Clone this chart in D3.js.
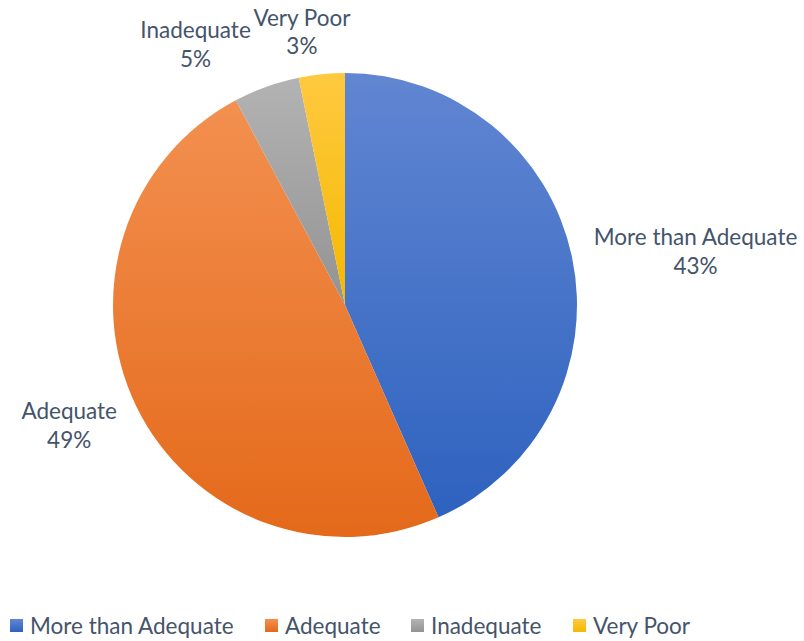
<!DOCTYPE html>
<html>
<head>
<meta charset="utf-8">
<script src="https://cdn.jsdelivr.net/npm/d3@7"></script>
<style>
  body { margin: 0; background: #fff; }
  svg text { font-family: Lato, "Noto Sans", sans-serif; fill: #44546A; }
</style>
</head>
<body>
<div id="chart"></div>
<script>
var categories = ["More than Adequate", "Adequate", "Inadequate", "Very Poor"];
var values = [43.4, 48.8, 4.6, 3.2];
var colorsTop = ["#6186d2", "#f39050", "#b3b3b3", "#ffc940"];
var colorsBottom = ["#2e62bf", "#e4691a", "#939393", "#f5b800"];

var width = 804, height = 641;
var cx = 345, cy = 305, radius = 232;

// label placement (Excel "best fit" style), pixel nudges from the label arc
var labelPos = [
    { r: 350, dx: 8, dy: 19 },
    { r: 300, dx: -6, dy: -10 },
    { r: 270, dx: -58, dy: -6 },
    { r: 280, dx: -15, dy: 6 }
];

var svg = d3.select("#chart").append("svg")
    .attr("width", width)
    .attr("height", height);

var defs = svg.append("defs");
categories.forEach(function (c, i) {
    var g = defs.append("linearGradient")
        .attr("id", "grad" + i)
        .attr("x1", 0).attr("y1", 0).attr("x2", 0).attr("y2", 1);
    g.append("stop").attr("offset", "0%").attr("stop-color", colorsTop[i]);
    g.append("stop").attr("offset", "100%").attr("stop-color", colorsBottom[i]);
});

var pie = d3.pie().sort(null).value(function (d) { return d; });
var arcs = pie(values);
var arc = d3.arc().innerRadius(0).outerRadius(radius);

var g = svg.append("g").attr("transform", `translate(${cx}, ${cy})`);

g.selectAll(".slice")
    .data(arcs)
    .enter()
    .append("path")
    .attr("class", "slice")
    .attr("d", arc)
    .attr("fill", function (d, i) { return "url(#grad" + i + ")"; });

// data labels
var labels = g.selectAll(".label")
    .data(arcs)
    .enter()
    .append("text")
    .attr("class", "label")
    .attr("text-anchor", "middle")
    .style("font-size", "22.5px")
    .attr("transform", function (d, i) {
        var p = d3.arc().innerRadius(labelPos[i].r).outerRadius(labelPos[i].r).centroid(d);
        return `translate(${p[0] + labelPos[i].dx}, ${p[1] + labelPos[i].dy})`;
    });

labels.append("tspan")
    .attr("x", 0)
    .attr("dy", "-0.3em")
    .text(function (d, i) { return categories[i]; });
labels.append("tspan")
    .attr("x", 0)
    .attr("dy", "1.28em")
    .text(function (d) { return Math.round(d.value) + "%"; });

// legend
var legendStarts = [10, 265, 411, 573];
var legend = svg.append("g").attr("class", "legend");
var items = legend.selectAll(".item")
    .data(categories)
    .enter()
    .append("g")
    .attr("class", "item")
    .attr("transform", function (d, i) { return `translate(${legendStarts[i]}, 619)`; });

items.append("rect")
    .attr("width", 13)
    .attr("height", 13)
    .attr("fill", function (d, i) { return "url(#grad" + i + ")"; });

items.append("text")
    .attr("x", 20)
    .attr("y", 14.5)
    .style("font-size", "22.5px")
    .text(function (d) { return d; });
</script>
</body>
</html>
